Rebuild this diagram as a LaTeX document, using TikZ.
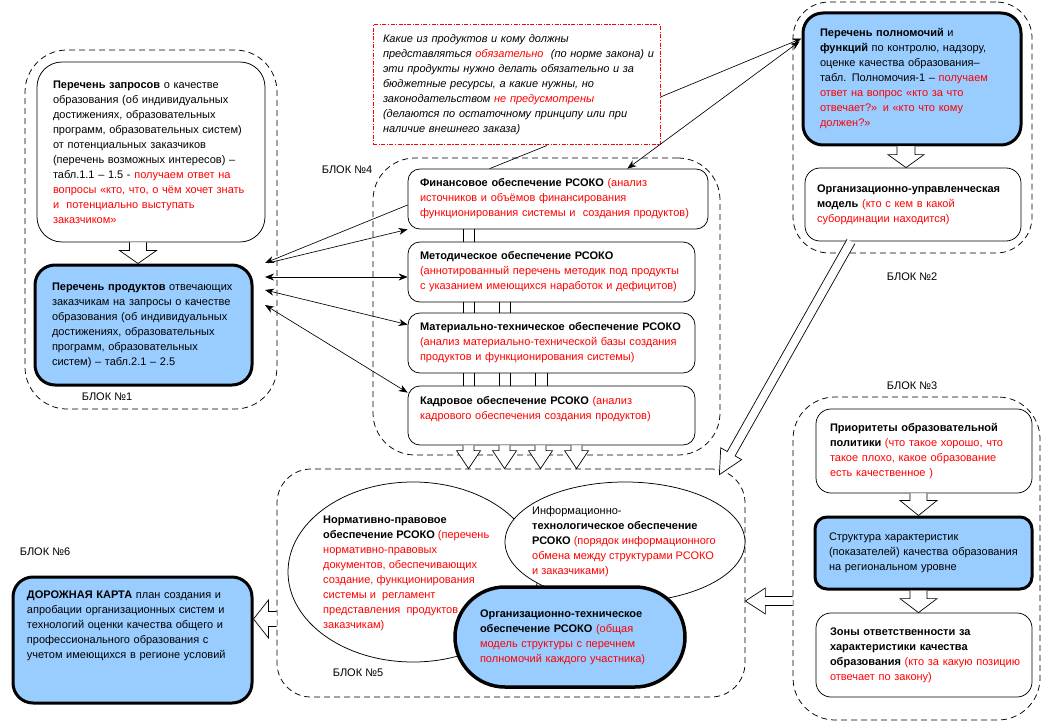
\documentclass[tikz,border=0pt]{standalone}
\usepackage{fontspec}
\setmainfont{Liberation Sans}
\usetikzlibrary{arrows.meta,calc,shapes.geometric}
\definecolor{bfill}{RGB}{153,204,255}
\newcommand\rd[1]{\textcolor{red}{#1}}
\newcommand\zl[1]{\mbox{#1}}
\newcommand\harrow[5]{%
  \coordinate (ha) at (#1);
  \coordinate (hb) at (#2);
  \coordinate (hc) at ($(hb)!#5!(ha)$);
  \draw[line width=0.7pt, fill=white, line join=miter]
    ($(ha)!#3!90:(hb)$) -- ($(hc)!#3!90:(hb)$) -- ($(hc)!#4!90:(hb)$) -- (hb)
    -- ($(hc)!#4!-90:(hb)$) -- ($(hc)!#3!-90:(hb)$) -- ($(ha)!#3!-90:(hb)$);
}
\begin{document}
\begin{tikzpicture}[x=1pt,y=-1pt,
  every node/.style={font=\fontsize{11}{15}\selectfont},
  blk/.style={draw, dash pattern=on 6pt off 4pt, line width=0.75pt, rounded corners=42pt, inner sep=0pt},
  wbox/.style={draw, line width=0.75pt, fill=white, rounded corners=13pt, align=left, inner ysep=0pt},
  bbox/.style={draw, line width=3pt, fill=bfill, rounded corners=18pt, align=left, inner ysep=0pt},
  lbl/.style={inner sep=0pt},
  con/.style={line width=0.65pt},
  tip/.style={-{Stealth[length=9pt,width=7pt]}},
  dtip/.style={{Stealth[length=9pt,width=7pt]}-{Stealth[length=9pt,width=7pt]}},
]
\fill[white] (0,0) rectangle (1046,722);
\useasboundingbox (0,0) rectangle (1046,722);

% outer blocks
\node[blk, minimum width=252pt, minimum height=359pt] (b1) at (151,229.5) {};
\node[blk, rounded corners=36pt, minimum width=239pt, minimum height=251pt] (b2) at (912.5,127.5) {};
\node[blk, minimum width=247pt, minimum height=323pt] (b3) at (916.5,558.5) {};
\node[blk, minimum width=347pt, minimum height=297pt] (b4) at (546.5,306.5) {};
\node[blk, minimum width=468pt, minimum height=228pt, rounded corners=34pt] (b5) at (511,583) {};

% labels
\node[lbl] (l1) at (107,397) {БЛОК №1};
\node[lbl] (l2) at (912,277) {БЛОК №2};
\node[lbl] (l3) at (912,386) {БЛОК №3};
\node[lbl] (l4) at (347,170) {БЛОК №4};
\node[lbl] (l5) at (358,673) {БЛОК №5};
\node[lbl] (l6) at (45,552) {БЛОК №6};

% block 1
\node[wbox, rounded corners=25pt, minimum width=228pt, minimum height=180pt, text width=196pt, inner xsep=16pt] (q) at (151,152) {%
\zl{\textbf{Перечень запросов} о качестве}\\
\zl{образования (об индивидуальных}\\
\zl{достижениях, образовательных}\\
\zl{программ, образовательных систем)}\\
\zl{от потенциальных заказчиков}\\
\zl{(перечень возможных интересов) –}\\
\zl{табл.1.1 – 1.5 - \rd{получаем ответ на}}\\
\zl{\rd{вопросы «кто, что, о чём хочет знать}}\\
\zl{\rd{и\ \ потенциально выступать}}\\
\zl{\rd{заказчиком»}}};
\node[bbox, rounded corners=20pt, minimum width=217pt, minimum height=120pt, text width=183pt, inner xsep=17pt] (p) at (143.5,325) {%
\zl{\textbf{Перечень продуктов} отвечающих}\\
\zl{заказчикам на запросы о качестве}\\
\zl{образования (об индивидуальных}\\
\zl{достижениях, образовательных}\\
\zl{программ, образовательных}\\
\zl{систем) – табл.2.1 – 2.5}};

% note
\node[draw=red, color=red, dash pattern=on 4pt off 1.5pt on 1.2pt off 1.5pt, line width=1pt, fill=white, align=left, minimum width=287pt, minimum height=120pt, text width=267pt, inner xsep=10pt, inner ysep=0pt, font=\fontsize{11}{15}\selectfont\itshape] (note) at (516.5,85) {%
\color{black}\zl{Какие из продуктов и кому должны}\\
\zl{представляться \rd{обязательно}\ \ (по норме закона) и}\\
\zl{эти продукты нужно делать обязательно и за}\\
\zl{бюджетные ресурсы, а какие нужны, но}\\
\zl{законодательством \rd{не предусмотрены}}\\
\zl{(делаются по остаточному принципу или при}\\
\zl{наличие внешнего заказа)}};

% block 4
\node[wbox, rounded corners=12pt, minimum width=300pt, minimum height=60pt, text width=276pt, inner xsep=12pt] (fin) at (558,199) {%
\zl{\textbf{Финансовое обеспечение РСОКО} \rd{(анализ}}\\
\zl{\rd{источников и объёмов финансирования}}\\
\zl{\rd{функционирования системы и\ \ создания продуктов)}}};
\node[wbox, rounded corners=12pt, minimum width=287pt, minimum height=60pt, text width=263pt, inner xsep=12pt] (met) at (551.5,272) {%
\zl{\textbf{Методическое обеспечение РСОКО}}\\
\zl{\rd{(аннотированный перечень методик под продукты}}\\
\zl{\rd{с указанием имеющихся наработок и дефицитов)}}};
\node[wbox, rounded corners=12pt, minimum width=287pt, minimum height=60pt, text width=263pt, inner xsep=12pt] (mat) at (551.5,343) {%
\zl{\textbf{Материально-техническое обеспечение РСОКО}}\\
\zl{\rd{(анализ материально-технической базы создания}}\\
\zl{\rd{продуктов и функционирования системы)}}};
\node[wbox, rounded corners=12pt, minimum width=287pt, minimum height=59pt, text width=263pt, inner xsep=12pt] (kad) at (551.5,415.5) {%
\zl{\textbf{Кадровое обеспечение РСОКО} \rd{(анализ}}\\
\zl{\rd{кадрового обеспечения создания продуктов)}}\\
\zl{}};

% block 2
\node[bbox, rounded corners=20pt, minimum width=218pt, minimum height=132pt, text width=184pt, inner xsep=17pt] (perm) at (912,79) {%
\zl{\textbf{Перечень полномочий} и}\\
\zl{\textbf{функций} по контролю, надзору,}\\
\zl{оценке качества образования–}\\
\zl{табл. Полномочия-1 – \rd{получаем}}\\
\zl{\rd{ответ на вопрос «кто за что}}\\
\zl{\rd{отвечает?» и «кто что кому}}\\
\zl{\rd{должен?»}}};
\node[wbox, rounded corners=15pt, minimum width=216pt, minimum height=73pt, text width=192pt, inner xsep=12pt] (org) at (913,204.5) {%
\zl{\textbf{Организационно-управленческая}}\\
\zl{\textbf{модель} \rd{(кто с кем в какой}}\\
\zl{\rd{субординации находится)}}};

% block 3
\node[wbox, rounded corners=15pt, minimum width=216pt, minimum height=84pt, text width=188pt, inner xsep=14pt] (prio) at (924,451) {%
\zl{\textbf{Приоритеты образовательной}}\\
\zl{\textbf{политики} \rd{(что такое хорошо, что}}\\
\zl{\rd{такое плохо, какое образование}}\\
\zl{\rd{есть качественное )}}};
\node[bbox, rounded corners=12pt, minimum width=217pt, minimum height=72pt, text width=189pt, inner xsep=14pt] (struc) at (923.5,553) {%
\zl{Структура характеристик}\\
\zl{(показателей) качества образования}\\
\zl{на региональном уровне}};
\node[wbox, rounded corners=15pt, minimum width=216pt, minimum height=84pt, text width=188pt, inner xsep=14pt] (zony) at (924,655) {%
\zl{\textbf{Зоны ответственности за}}\\
\zl{\textbf{характеристики качества}}\\
\zl{\textbf{образования} \rd{(кто за какую позицию}}\\
\zl{\rd{отвечает по закону)}}};

% block 5
\node[draw, ellipse, line width=0.75pt, fill=white, minimum width=250pt, minimum height=180pt, inner sep=0pt] (norm) at (413,572) {};
\node[draw, ellipse, line width=0.75pt, fill=white, minimum width=240pt, minimum height=120pt, inner sep=0pt] (info) at (625,542) {};
\node[anchor=west, align=left, inner sep=0pt] (normt) at (323,573.5) {%
\zl{\textbf{Нормативно-правовое}}\\
\zl{\textbf{обеспечение РСОКО} \rd{(перечень}}\\
\zl{\rd{нормативно-правовых}}\\
\zl{\rd{документов, обеспечивающих}}\\
\zl{\rd{создание, функционирования}}\\
\zl{\rd{системы и\ \ регламент}}\\
\zl{\rd{представления\ \ продуктов}}\\
\zl{\rd{заказчикам)}}};
\node[anchor=west, align=left, inner sep=0pt] (infot) at (532,542) {%
\zl{Информационно-}\\
\zl{\textbf{технологическое обеспечение}}\\
\zl{\textbf{РСОКО} \rd{(порядок информационного}}\\
\zl{\rd{обмена между структурами РСОКО}}\\
\zl{\rd{и заказчиками)}}};
\node[bbox, line width=3.5pt, rounded corners=50pt, minimum width=230pt, minimum height=100pt, text width=180pt, inner xsep=25pt] (ot) at (570,637) {%
\zl{\textbf{Организационно-техническое}}\\
\zl{\textbf{обеспечение РСОКО} \rd{(общая}}\\
\zl{\rd{модель структуры с перечнем}}\\
\zl{\rd{полномочий каждого участника)}}};

% block 6
\node[bbox, rounded corners=20pt, minimum width=239pt, minimum height=126pt, text width=211pt, inner xsep=14pt] (dk) at (132.5,640) {%
\zl{\textbf{ДОРОЖНАЯ КАРТА} план создания и}\\
\zl{апробации организационных систем и}\\
\zl{технологий оценки качества общего и}\\
\zl{профессионального образования с}\\
\zl{учетом имеющихся в регионе условий}\\
\zl{}\\
\zl{}};

% pipes in block 4
\foreach \x in {463,474} \draw[con] (fin.south -| \x,0) -- (met.north -| \x,0);
\foreach \x in {463,474,499,510} \draw[con] (met.south -| \x,0) -- (mat.north -| \x,0);
\foreach \x in {463,474,499,510,535,547} \draw[con] (mat.south -| \x,0) -- (kad.north -| \x,0);

% hollow arrows
\harrow{$(q.south)+(-13,0)$}{$(p.north)+(-5.5,0)$}{8.5pt}{18.5pt}{13pt}
\harrow{$(perm.south)+(-6,0)$}{$(org.north)+(-7,0)$}{9pt}{18pt}{13pt}
\harrow{$(prio.south)+(-5.5,0)$}{$(struc.north)+(-5,0)$}{8.5pt}{18.5pt}{15pt}
\harrow{$(struc.south)+(-5,0)$}{$(zony.north)+(-5.5,0)$}{8.5pt}{18.5pt}{14pt}
\foreach \x in {468.5,504.5,540.5,576.5} {\harrow{kad.south -| \x,0}{b5.north -| \x,0}{5.5pt}{12pt}{18pt}}
\harrow{b5.west |- 0,619}{dk.east |- 0,619}{7.5pt}{19pt}{15pt}
\harrow{b3.west |- 0,601}{b5.east |- 0,601}{4.5pt}{13pt}{20pt}
\harrow{$(org.south)+(-62,0)$}{$(b5.north east)+(-26,6)$}{4.5pt}{12pt}{24pt}

% connectors block 1 <-> block 4
\coordinate (e1) at (265,263);
\coordinate (e3) at (265,277);
\coordinate (e4) at (265,290);
\coordinate (e5) at (265,305);
\draw[con,tip] ($(fin.west)+(0,6)$) -- (e1);
\draw[con,tip] ($(e1)+(3,0)$) -- (fin.south west);
\draw[con,dtip] (e3) -- ($(met.west)+(0,5)$);
\draw[con,dtip] (e4) -- ($(mat.north west)+(0,12)$);
\draw[con,dtip] (e5) -- ($(kad.north west)+(0,7)$);

% connectors at top
\draw[con,tip] ($(note.east)+(0,12)$) -- ($(perm.north west)+(0,27)$);
\draw[con,dtip] ($(perm.north west)+(-2,30)$) -- ($(fin.north east)+(-81,0)$);
\draw[con] ($(note.south)+(30.5,0)$) -- ($(fin.north west)+(82,0)$);
\end{tikzpicture}
\end{document}
